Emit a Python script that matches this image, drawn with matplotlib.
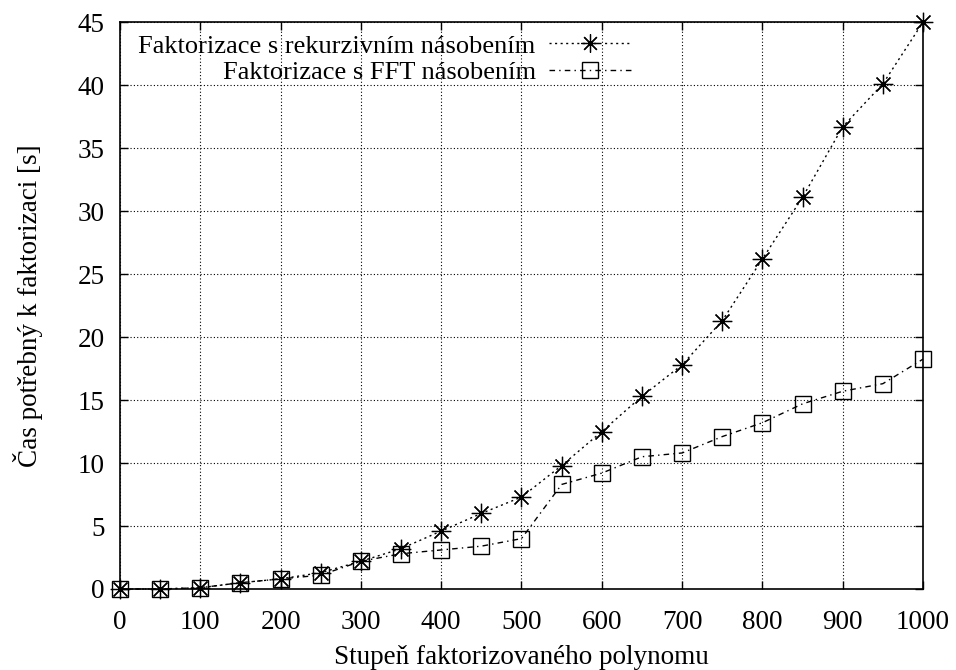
import matplotlib
matplotlib.use('Agg')
import matplotlib.pyplot as plt

plt.rcParams['font.family'] = ['Liberation Serif', 'DejaVu Serif']
plt.rcParams['font.size'] = 19.5

# stupen polynomu
stupen = [0, 50, 100, 150, 200, 250, 300, 350, 400, 450, 500,
          550, 600, 650, 700, 750, 800, 850, 900, 950, 1000]
# rekurzivni nasobeni
cas_rek = [0.0, 0.0, 0.1, 0.5, 0.8, 1.3, 2.2, 3.2, 4.6, 6.0, 7.3,
           9.8, 12.5, 15.3, 17.8, 21.3, 26.2, 31.1, 36.7, 40.1, 45.0]
# FFT nasobeni
cas_fft = [0.0, 0.0, 0.1, 0.5, 0.8, 1.1, 2.2, 2.8, 3.1, 3.4, 4.0,
           8.3, 9.2, 10.5, 10.8, 12.1, 13.2, 14.7, 15.7, 16.3, 18.25]

xticks = list(range(0, 1001, 100))
yticks = list(range(0, 46, 5))

fig = plt.figure(figsize=(9.56, 6.70), dpi=100)
ax = fig.add_axes([0.1255, 0.1209, 0.84, 0.846])

ax.plot(stupen, cas_rek, color='black', linestyle=(0, (1.5, 2.5)), linewidth=1,
        marker=(8, 2, 0), markersize=14, markeredgewidth=0.9,
        label='Faktorizace s rekurzivním násobením')
ax.plot(stupen, cas_fft, color='black', linestyle=(0, (4, 3, 1, 3)), linewidth=1,
        marker='s', markersize=12, fillstyle='none', markeredgewidth=1,
        label='Faktorizace s FFT násobením')

ax.set_xlim(0, 1000)
ax.set_ylim(0, 45)
ax.set_xticks(xticks)
ax.set_yticks(yticks)
ax.tick_params(direction='in', top=True, right=True, length=6, width=1, labelsize=19.5)
ax.tick_params(axis='x', pad=15)
ax.tick_params(axis='y', pad=11)
ax.grid(True, color='black', linestyle=(0, (1, 2)), linewidth=0.8)
for s in ax.spines.values():
    s.set_linewidth(1.2)
for m in ax.lines:
    m.set_clip_on(False)

ax.set_xlabel('Stupeň faktorizovaného polynomu', fontsize=19.5, labelpad=7)
ax.set_ylabel('Čas potřebný k faktorizaci [s]', fontsize=19.5, labelpad=25)

leg = ax.legend(loc='upper right', bbox_to_anchor=(0.636, 0.979), frameon=False, markerfirst=False,
                fontsize=19, handlelength=3.1, handletextpad=0.5, labelspacing=0.13,
                borderpad=0, borderaxespad=0, alignment='right')
leg.legend_handles[0].set_markersize(13)
leg.legend_handles[1].set_markersize(11)
for t in leg.get_texts():
    t.set_ha('right')

fig.savefig('out.png', dpi=100)
